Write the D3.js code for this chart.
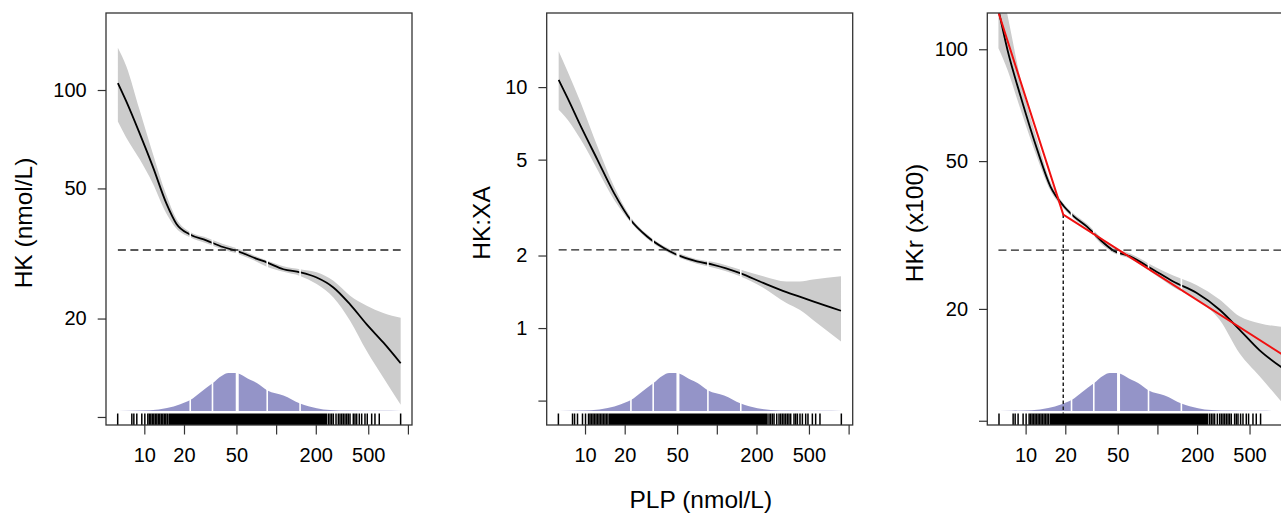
<!DOCTYPE html>
<html>
<head>
<meta charset="utf-8">
<script src="https://cdn.jsdelivr.net/npm/d3@7"></script>
<style>
  body { margin: 0; background: #fff; }
  text { font-family: "Liberation Sans", Arial, Helvetica, sans-serif; }
</style>
</head>
<body>
<div id="graph"></div>
<script>
// x axis (PLP, log scale) ticks shared by all panels
const plpTicks = [10, 20, 50, 100, 200, 500, 1000];
const plpLabels = [10, 20, 50, 200, 500];

// panel 1: HK (nmol/L)
const hkX   = [6.3, 7.3, 9.2, 11.6, 14.7, 17.5, 22, 29.5, 39.5, 52.7, 70.6, 85, 113.6, 152, 203, 272, 364, 487, 650, 881];
const hkFit = [105, 92.3, 73.8, 58.3, 45.0, 39.0, 36.2, 34.7, 33.1, 32.0, 30.5, 29.7, 28.3, 27.7, 26.7, 24.9, 22.1, 19.2, 16.9, 14.6];
const hkHi  = [134.6, 118.3, 87.0, 64.0, 47.7, 40.4, 36.9, 35.4, 33.8, 32.6, 31.0, 30.1, 28.9, 28.3, 27.7, 26.1, 23.5, 21.9, 20.8, 20.1];
const hkLo  = [80.1, 71.5, 61.5, 51.8, 41.9, 37.7, 35.5, 34.0, 32.5, 31.4, 29.9, 28.8, 27.8, 27.0, 25.5, 23.2, 19.7, 15.9, 13.2, 10.9];

// panel 2: HK:XA
const xaX   = [6.31, 7.38, 9.30, 12.43, 16.61, 22.2, 29.6, 39.6, 48.4, 70.6, 94.4, 150, 225, 337.5, 425, 537, 875];
const xaFit = [10.72, 9.00, 6.87, 4.99, 3.63, 2.81, 2.40, 2.15, 2.03, 1.89, 1.83, 1.69, 1.54, 1.41, 1.35, 1.29, 1.18];
const xaHi  = [14.07, 11.62, 8.58, 5.67, 3.87, 2.89, 2.45, 2.19, 2.08, 1.93, 1.88, 1.75, 1.64, 1.56, 1.56, 1.59, 1.64];
const xaLo  = [8.05, 7.32, 6.04, 4.54, 3.41, 2.75, 2.35, 2.11, 1.99, 1.85, 1.78, 1.64, 1.47, 1.27, 1.19, 1.08, 0.88];

// panel 3: HKr (x100)
const hkrX   = [6.22, 7.28, 9.17, 12.26, 15.44, 19.49, 23.19, 29.2, 36.8, 46.5, 62.0, 93.1, 131.8, 197.6, 296.3, 419.4, 593.8, 881];
const hkrFit = [128, 99.7, 74.6, 53.6, 42.7, 37.8, 35.5, 33.3, 30.7, 28.7, 27.7, 25.5, 23.7, 22.1, 19.9, 17.6, 15.5, 13.9];
const hkrHi  = [160, 123.9, 82.8, 57.1, 44.0, 38.4, 36.1, 33.9, 31.3, 29.2, 28.2, 26.1, 24.6, 23.2, 21.2, 19.1, 18.3, 17.9];
const hkrLo  = [100.7, 88.1, 68.7, 51.0, 41.6, 37.2, 35.0, 32.9, 30.1, 28.3, 27.3, 24.9, 22.9, 21.2, 18.7, 15.2, 13.2, 11.2];

// segmented (broken-stick) fit for panel 3
const breakX = [6.25, 19.3, 881];
const breakY = [125, 35.9, 15.1];

// reference (horizontal dashed) levels
const refLevels = [32.4, 2.11, 28.8];

// PLP distribution (relative density) and its quantiles
const densX = [5.15, 7.83, 11.1, 14.86, 18.74, 22.3, 26.6, 32.9, 38.8, 43.5, 48.9, 53.4, 63.5, 71.4, 85.9, 113.6, 152, 203.4, 256.5, 363.6, 613.6, 900];
const densY = [0, 0.008, 0.02, 0.08, 0.18, 0.29, 0.49, 0.73, 0.93, 1.0, 1.0, 0.97, 0.82, 0.74, 0.54, 0.41, 0.20, 0.074, 0.026, 0.01, 0.004, 0];
const quantX = [22.3, 32.9, 50.7, 85.6, 152];

// rug: isolated observations plus the solid block between them
const rugLow  = [6.28, 8.04, 8.33, 8.77, 9.57, 10.09, 10.63, 10.91, 11.2, 11.5, 11.8, 12.12, 12.44, 12.77, 13.1, 13.45, 13.81, 14.17, 14.55, 14.93];
const rugSolid = [15.2, 243.5];
const rugHigh = [249, 256.5, 264.2, 271.8, 284.8, 296.5, 305.4, 314.6, 323.5, 333.3, 343.3, 352.9, 363.6, 385.1, 396.7, 408.7, 427.6, 445.9, 472.3, 491.7, 530.9, 562.3, 606.3, 880.6];

const panels = [
  {title: "HK (nmol/L)", x: hkX, fit: hkFit, lo: hkLo, hi: hkHi, yDomain: [9.45, 172],
   yTicks: [10, 20, 50, 100], yLabels: [20, 50, 100]},
  {title: "HK:XA", x: xaX, fit: xaFit, lo: xaLo, hi: xaHi, yDomain: [0.396, 20.3],
   yTicks: [0.5, 1, 2, 5, 10], yLabels: [1, 2, 5, 10]},
  {title: "HKr (x100)", x: hkrX, fit: hkrFit, lo: hkrLo, hi: hkrHi, yDomain: [9.74, 125.2],
   yTicks: [10, 20, 50, 100], yLabels: [20, 50, 100], broken: true}
];

// layout
const width = 1281, height = 525;
const panelLeft = [106, 546.7, 987.3];
const titleX = [32, 490, 923.3];
const plotW = 306, plotTop = 13, plotBottom = 425;
const densBase = 411, densTop = 373, rugTop = 413.5;
const xDomain = [5.12, 1074];
const font = '"Liberation Sans", Arial, Helvetica, sans-serif';

const svg = d3.select("#graph").append("svg")
  .attr("width", width)
  .attr("height", height);

panels.forEach(function(p, i) {
  const left = panelLeft[i];
  const x = d3.scaleLog().domain(xDomain).range([left, left + plotW]);
  const y = d3.scaleLog().domain(p.yDomain).range([plotBottom, plotTop]);
  const dens = d3.scaleLinear().domain([0, 1]).range([densBase, densTop]);

  svg.append("clipPath").attr("id", "clip" + i)
    .append("rect")
    .attr("x", left).attr("y", plotTop)
    .attr("width", plotW).attr("height", plotBottom - plotTop);

  const plot = svg.append("g").attr("clip-path", `url(#clip${i})`);
  const rows = p.x.map((v, k) => ({x: v, fit: p.fit[k], lo: p.lo[k], hi: p.hi[k]}));

  // confidence band
  plot.append("path").datum(rows)
    .attr("fill", "#cccccc")
    .attr("d", d3.area()
      .x(d => x(d.x))
      .y0(d => y(d.lo))
      .y1(d => y(d.hi))
      .curve(d3.curveMonotoneX));

  // fitted curve
  plot.append("path").datum(rows)
    .attr("fill", "none")
    .attr("stroke", "#000")
    .attr("stroke-width", 1.8)
    .attr("d", d3.line()
      .x(d => x(d.x))
      .y(d => y(d.fit))
      .curve(d3.curveMonotoneX));

  // distribution of PLP
  plot.append("path").datum(densX.map((v, k) => [v, densY[k]]))
    .attr("fill", "#9494c8")
    .attr("d", d3.area()
      .x(d => x(d[0]))
      .y0(densBase)
      .y1(d => dens(d[1]))
      .curve(d3.curveMonotoneX));

  // quantile markers
  plot.selectAll(".quant").data(quantX).join("line")
    .attr("class", "quant")
    .attr("x1", d => x(d)).attr("x2", d => x(d))
    .attr("y1", plotTop).attr("y2", densBase + 1)
    .attr("stroke", "#fff")
    .attr("stroke-width", (d, k) => k === 2 ? 3 : 1.6);

  // reference level
  plot.append("line")
    .attr("x1", x(d3.min(p.x))).attr("x2", x(d3.max(p.x)))
    .attr("y1", y(refLevels[i])).attr("y2", y(refLevels[i]))
    .attr("stroke", "#222")
    .attr("stroke-width", 1.4)
    .attr("stroke-dasharray", "8,4.5");

  if (p.broken) {
    plot.append("line")
      .attr("x1", x(breakX[1])).attr("x2", x(breakX[1]))
      .attr("y1", y(breakY[1])).attr("y2", rugTop)
      .attr("stroke", "#222")
      .attr("stroke-width", 1.5)
      .attr("stroke-dasharray", "3.5,2.5");
    plot.append("path").datum(breakX.map((v, k) => [v, breakY[k]]))
      .attr("fill", "none")
      .attr("stroke", "#f01010")
      .attr("stroke-width", 2)
      .attr("d", d3.line().x(d => x(d[0])).y(d => y(d[1])));
  }

  // rug
  plot.selectAll(".rug").data(rugLow.concat(rugHigh)).join("line")
    .attr("class", "rug")
    .attr("x1", d => x(d)).attr("x2", d => x(d))
    .attr("y1", rugTop).attr("y2", plotBottom)
    .attr("stroke", "#000")
    .attr("stroke-width", 1.5);
  plot.append("rect")
    .attr("x", x(rugSolid[0])).attr("y", rugTop)
    .attr("width", x(rugSolid[1]) - x(rugSolid[0]))
    .attr("height", plotBottom - rugTop)
    .attr("fill", "#000");

  // box
  svg.append("rect")
    .attr("x", left).attr("y", plotTop)
    .attr("width", plotW).attr("height", plotBottom - plotTop)
    .attr("fill", "none")
    .attr("stroke", "#333")
    .attr("stroke-width", 1.3);

  // axes
  const yAxis = svg.append("g")
    .attr("transform", `translate(${left},0)`)
    .call(d3.axisLeft(y)
      .tickValues(p.yTicks)
      .tickFormat(d => p.yLabels.includes(d) ? d : "")
      .tickSize(8.3)
      .tickPadding(11));
  const xAxis = svg.append("g")
    .attr("transform", `translate(0,${plotBottom})`)
    .call(d3.axisBottom(x)
      .tickValues(plpTicks)
      .tickFormat(d => plpLabels.includes(d) ? d : "")
      .tickSize(9.5)
      .tickPadding(13.5));
  [yAxis, xAxis].forEach(function(a) {
    a.select(".domain").remove();
    a.attr("font-size", 20).attr("font-family", font);
    a.selectAll("line").attr("stroke", "#333").attr("stroke-width", 1.2);
    a.selectAll("text").attr("fill", "#000");
  });

  svg.append("text")
    .attr("transform", `translate(${titleX[i]},223) rotate(-90)`)
    .attr("text-anchor", "middle")
    .attr("font-size", 24.5)
    .text(p.title);
});

svg.append("text")
  .attr("x", 700.8)
  .attr("y", 508)
  .attr("text-anchor", "middle")
  .attr("font-size", 24.5)
  .text("PLP (nmol/L)");
</script>
</body>
</html>
